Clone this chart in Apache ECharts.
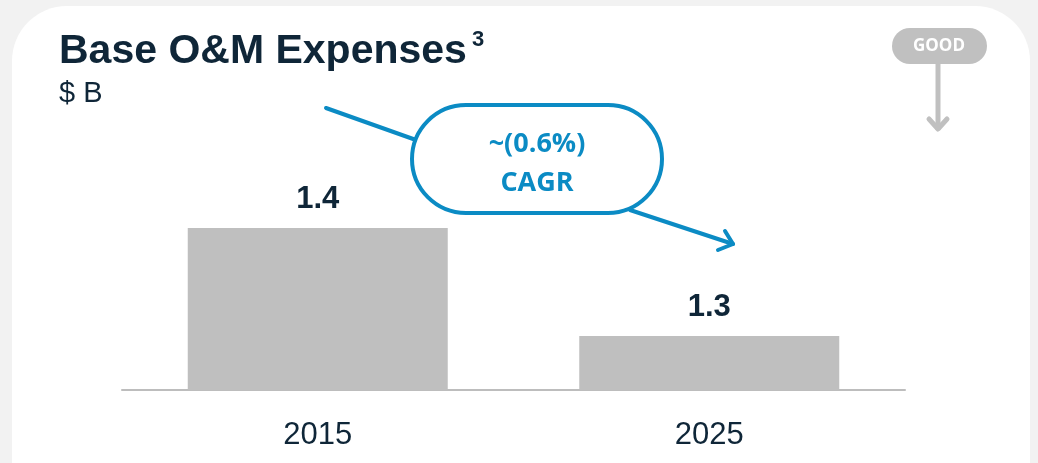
<!DOCTYPE html>
<html>
<head>
<meta charset="utf-8">
<script src="https://cdn.jsdelivr.net/npm/echarts@6/dist/echarts.min.js"></script>
<style>
  html, body { margin: 0; padding: 0; background: #f2f2f2; }
  #main { width: 1038px; height: 463px; }
</style>
</head>
<body>
<div id="main"></div>
<script>
var years = ['2015', '2025'];
var expenses = [1.4, 1.3];
var cagrText = ['~(0.6%)', 'CAGR'];

var navy = '#0f2638';
var blue = '#0b8bc4';
var grey = '#bfbfbf';

var chart = echarts.init(document.getElementById('main'));

chart.setOption({
    animation: false,
    backgroundColor: '#f2f2f2',
    grid: { left: 122, right: 133, top: 120, bottom: 73 },
    xAxis: {
        type: 'category',
        data: years,
        axisLine: { lineStyle: { color: '#bdbdbd', width: 2 } },
        axisTick: { show: false },
        axisLabel: {
            margin: 30,
            fontSize: 31,
            color: navy,
            fontFamily: 'Liberation Sans Narrow, Liberation Sans, Arial'
        }
    },
    yAxis: {
        type: 'value',
        min: 1.25,
        max: 1.5,
        show: false
    },
    series: [{
        type: 'bar',
        data: expenses,
        barWidth: 260,
        itemStyle: { color: grey },
        label: {
            show: true,
            position: 'top',
            distance: 13,
            fontSize: 31,
            fontWeight: 'bold',
            color: navy,
            fontFamily: 'Liberation Sans, Arial',
            formatter: function (p) { return p.value.toFixed(1); }
        }
    }],
    graphic: [
        // white card
        {
            type: 'rect', z: -10, silent: true,
            shape: { x: 12, y: 6, width: 1018, height: 520, r: 55 },
            style: { fill: '#ffffff' }
        },
        // title
        {
            type: 'text', x: 59, y: 31,
            style: {
                text: 'Base O&M Expenses',
                font: 'bold 41px "Liberation Sans", Arial',
                fill: navy
            }
        },
        {
            type: 'text', x: 472, y: 29,
            style: {
                text: '3',
                font: 'bold 22px "Liberation Sans", Arial',
                fill: navy
            }
        },
        {
            type: 'text', x: 59, y: 79,
            style: {
                text: '$ B',
                font: '29px "Liberation Sans", Arial',
                fill: navy
            }
        },
        // CAGR callout lines
        {
            type: 'polyline',
            shape: { points: [[326, 108], [416, 140]] },
            style: { stroke: blue, lineWidth: 4, lineCap: 'round', fill: null }
        },
        {
            type: 'polyline',
            shape: { points: [[630, 210], [733, 244]] },
            style: { stroke: blue, lineWidth: 4, lineCap: 'round', fill: null }
        },
        {
            type: 'polyline',
            shape: { points: [[725, 231], [733, 244], [718, 250]] },
            style: { stroke: blue, lineWidth: 4, lineCap: 'round', lineJoin: 'round', fill: null }
        },
        {
            type: 'rect',
            shape: { x: 412, y: 105, width: 250, height: 108, r: 54 },
            style: { fill: '#ffffff', stroke: blue, lineWidth: 4 }
        },
        {
            type: 'text', x: 537, y: 144,
            style: {
                text: cagrText[0],
                font: 'bold 27px "Open Sans", sans-serif',
                fill: blue, align: 'center', verticalAlign: 'middle'
            }
        },
        {
            type: 'text', x: 537, y: 183,
            style: {
                text: cagrText[1],
                font: 'bold 27px "Open Sans", sans-serif',
                fill: blue, align: 'center', verticalAlign: 'middle'
            }
        },
        // GOOD badge
        {
            type: 'rect',
            shape: { x: 892, y: 28, width: 95, height: 36, r: 18 },
            style: { fill: '#c0c0c0' }
        },
        {
            type: 'text', x: 939, y: 46,
            style: {
                text: 'GOOD',
                font: 'bold 17px "Open Sans", sans-serif',
                fill: '#ffffff', align: 'center', verticalAlign: 'middle'
            }
        },
        {
            type: 'polyline',
            shape: { points: [[938, 64], [938, 130]] },
            style: { stroke: '#c0c0c0', lineWidth: 5, fill: null }
        },
        {
            type: 'polyline',
            shape: { points: [[929, 119], [938, 129], [947, 119]] },
            style: { stroke: '#c0c0c0', lineWidth: 5, lineCap: 'round', lineJoin: 'round', fill: null }
        }
    ]
});
</script>
</body>
</html>
